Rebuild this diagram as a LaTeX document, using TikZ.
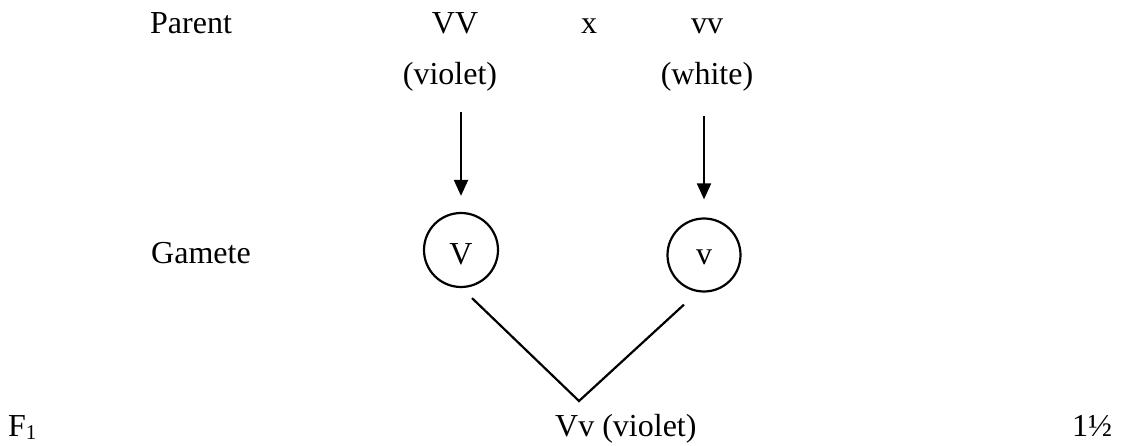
\documentclass[tikz,border=0pt]{standalone}
\usepackage{fontspec}
\setmainfont{Liberation Serif}
\usetikzlibrary{arrows.meta}
\begin{document}
\begin{tikzpicture}[x=1pt,y=-1pt,
  txt/.style={inner sep=0pt, font=\fontsize{32}{38}\selectfont},
  lw/.style={txt, anchor=base west},
  cb/.style={txt, anchor=base},
  gcirc/.style={draw, circle, line width=2.2pt, inner sep=0pt, font=\fontsize{32}{38}\selectfont},
  arr/.style={line width=2pt, -{Triangle[width=14pt,length=16pt]}},
  ln/.style={line width=2.2pt}]
\useasboundingbox (0,0) rectangle (1121,446);
% row 1
\node[lw] (parent) at (150,34) {Parent};
\node[cb] (pVV) at (455,34) {VV};
\node[cb] (cross) at (589,34) {x};
\node[cb] (pvv) at (707,34) {vv};
% row 2
\node[cb] (violet) at (450,85) {(violet)};
\node[cb] (white) at (707,85) {(white)};
% gametes
\node[lw] (gamete) at (151,264) {Gamete};
\node[gcirc, minimum size=74pt, text height=30pt, text depth=0pt] (gV) at (461,250) {V};
\node[gcirc, minimum size=73pt, text height=20pt, text depth=0pt] (gv) at (704,255) {v};
\draw[arr, shorten <=20pt, shorten >=16pt] (violet.south -| gV.north) -- (gV.north);
\draw[arr, shorten <=24pt, shorten >=18pt] (white.south -| gv.north) -- (gv.north);
% cross lines
\coordinate (apex) at (579,401);
\draw[ln] ([shift={(11,10)}]gV.south) -- (apex) -- ([shift={(-20,12)}]gv.south);
% F1 row
\node[lw] (f1) at (8,436) {F\raisebox{-3pt}{\fontsize{21}{24}\selectfont 1}};
\node[lw] (off) at (555,436) {Vv (violet)};
\node[lw] (mark) at (1072,436) {1½};
\end{tikzpicture}
\end{document}
